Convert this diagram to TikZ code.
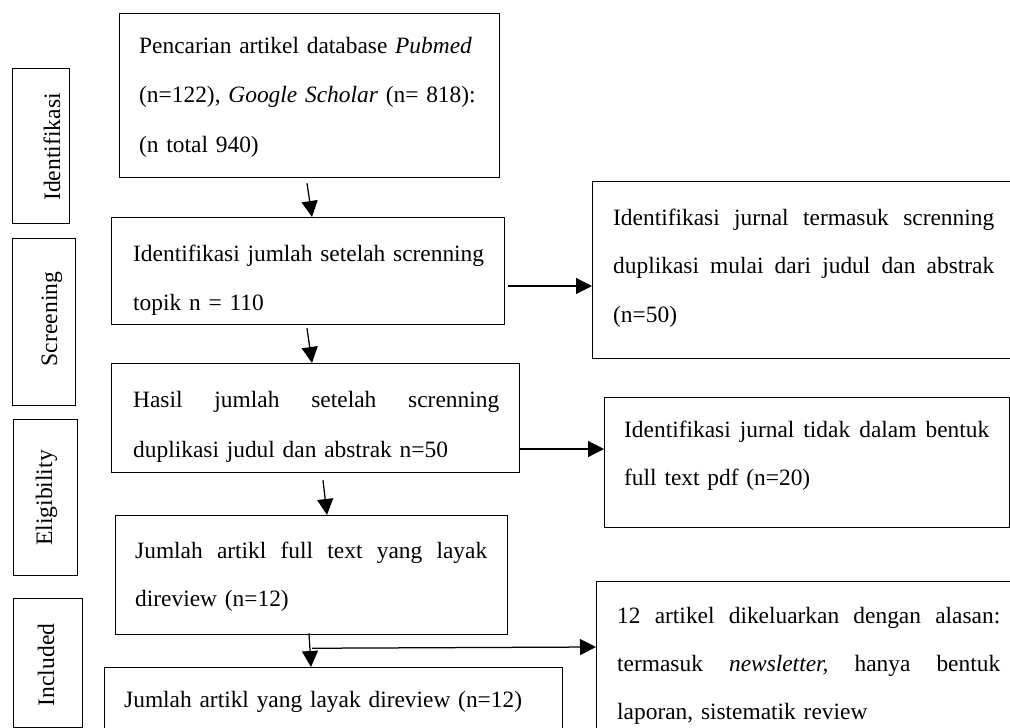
\documentclass[tikz,border=0pt]{standalone}
\usepackage{fontspec}
\setmainfont{Liberation Serif}
\usetikzlibrary{arrows.meta,calc}
\newcommand\jline[2]{\leavevmode\hbox to #1{#2}}
\begin{document}
\begin{tikzpicture}[x=1pt,y=1pt,
  box/.style={draw, line width=1.25pt, inner sep=0pt, anchor=north west},
  txt/.style={inner sep=0pt, anchor=base west, text width=430pt, align=left, font=\fontsize{23.4}{#1}\selectfont},
  side/.style={inner sep=0pt, rotate=90, anchor=base, font=\fontsize{23.6}{29}\selectfont},
  arr/.style={line width=1.25pt, -{Triangle[length=16pt,width=16pt]}}]
\useasboundingbox (0,0) rectangle (1010,-728);
\clip (0,0) rectangle (1010,-728);
% stage boxes
\node[box, minimum width=57pt, minimum height=155pt] (s1) at (12,-68) {};
\node[box, minimum width=63pt, minimum height=167pt] (s2) at (12,-238) {};
\node[box, minimum width=64pt, minimum height=156pt] (s3) at (13,-419) {};
\node[box, minimum width=69pt, minimum height=129pt] (s4) at (13,-598) {};
\node[side] (l1) at (60,-147) {Identifikasi};
\node[side] (l2) at (57,-319) {Screening};
\node[side] (l3) at (52,-498) {Eligibility};
\node[side] (l4) at (54,-665) {Included};
% main boxes
\node[box, minimum width=380pt, minimum height=164pt] (b1) at (119,-13) {};
\node[box, minimum width=393pt, minimum height=107pt] (b2) at (111,-217) {};
\node[box, minimum width=408pt, minimum height=109pt] (b3) at (111,-363) {};
\node[box, minimum width=392pt, minimum height=119pt] (b4) at (115,-515) {};
\node[box, minimum width=458pt, minimum height=75pt] (b5) at (104,-667) {};
\node[box, minimum width=425pt, minimum height=177pt] (r1) at (592,-181) {};
\node[box, minimum width=405pt, minimum height=130pt] (r2) at (604,-397) {};
\node[box, minimum width=420pt, minimum height=160pt] (r3) at (596,-581) {};
% texts
\node[txt=49.5] (t1) at (139,-53) {Pencarian artikel database \textit{Pubmed}\\(n=122), \textit{Google Scholar} (n= 818):\\(n total 940)};
\node[txt=49] (t2) at (133,-261) {Identifikasi jumlah setelah screnning\\topik n = 110};
\node[txt=50] (t3) at (133,-407) {\jline{366pt}{Hasil\hfill jumlah\hfill setelah\hfill screnning}\\duplikasi judul dan abstrak n=50};
\node[txt=48] (t4) at (135,-558) {\jline{352pt}{Jumlah\hfill artikl\hfill full\hfill text\hfill yang\hfill layak}\\direview (n=12)};
\node[txt=49] (t5) at (124,-707) {Jumlah artikl yang layak direview (n=12)};
\node[txt=48.5] (u1) at (613,-225) {\jline{381pt}{Identifikasi\hfill jurnal\hfill termasuk\hfill screnning}\\\jline{381pt}{duplikasi\hfill mulai\hfill dari\hfill judul\hfill dan\hfill abstrak}\\(n=50)};
\node[txt=48] (u2) at (624,-437) {\jline{365pt}{Identifikasi\hfill jurnal\hfill tidak\hfill dalam\hfill bentuk}\\full text pdf (n=20)};
\node[txt=48] (u3) at (617,-623) {\jline{383pt}{12\hfill artikel\hfill dikeluarkan\hfill dengan\hfill alasan:}\\\jline{383pt}{termasuk\hfill\textit{newsletter,}\hfill hanya\hfill bentuk}\\laporan, sistematik review};
% connectors
\draw[arr] ($(b1.south west)+(188,-5)$) -- ($(b2.north west)+(201,0)$);
\draw[arr] ($(b2.south west)+(196,-3)$) -- ($(b3.north west)+(201,0)$);
\draw[arr] ($(b3.south west)+(212,-7)$) -- ($(b4.north west)+(212,0)$);
\draw[arr] ($(b4.south west)+(194,2)$) -- ($(b5.north west)+(207,0)$);
\draw[arr] ($(b2.north east)+(3,-69)$) -- ($(r1.north west)+(0,-105)$);
\draw[arr] ($(b3.north east)+(0,-86)$) -- ($(r2.north west)+(0,-52)$);
\draw[arr] ($(b4.south west)+(197,-13)$) -- ($(r3.north west)+(0,-66)$);
\end{tikzpicture}
\end{document}
